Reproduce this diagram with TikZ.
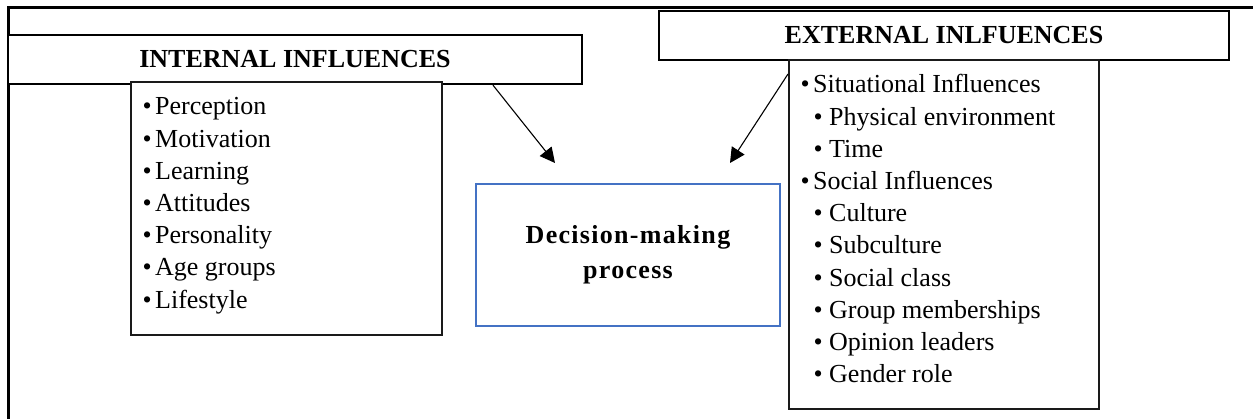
\documentclass[tikz,border=0pt]{standalone}
\usepackage{fontspec}
\setmainfont{Liberation Serif}
\newfontfamily\dmfont[LetterSpace=5]{Liberation Serif}
\usetikzlibrary{arrows.meta}
\definecolor{boxline}{HTML}{1A1A1A}
\definecolor{dmblue}{HTML}{4472C4}
% bullet in a box of given width, followed by the item text
\newcommand\blt[2]{\makebox[#1][l]{•}#2}
\begin{document}
\begin{tikzpicture}[x=1pt,y=-1pt,
  frameline/.style={line width=3pt, draw=black},
  headbox/.style={draw=black, line width=2.4pt, fill=white, inner sep=0pt,
    font=\fontsize{26}{30}\selectfont\bfseries},
  listbox/.style={draw=boxline, line width=2pt, fill=white, inner sep=0pt},
  dmbox/.style={draw=dmblue, line width=2pt, fill=white, inner sep=0pt,
    align=center, font={\dmfont\bfseries\fontsize{26}{35}\selectfont}},
  itemtext/.style={anchor=base west, inner sep=0pt,
    font=\fontsize{26}{32}\selectfont},
  inflarrow/.style={line width=1.1pt, draw=black,
    -{Triangle[length=15pt,width=15pt]}}
]
\useasboundingbox (0,0) rectangle (1253,419);

% outer frame (only its top and left sides fall on the page)
\draw[frameline] (8.5,440) -- (8.5,7.5) -- (1270,7.5);

% internal influences
\node[headbox, minimum width=574pt, minimum height=49pt] (inhead) at (295,59.5)
  {INTERNAL INFLUENCES};
\node[listbox, minimum width=311pt, minimum height=253pt] (inlist) at (286.5,208.5) {};

% external influences
\node[headbox, minimum width=570pt, minimum height=49pt] (exhead) at (944,35.5)
  {EXTERNAL INLFUENCES};
\node[listbox, minimum width=310pt, minimum height=349pt] (exlist) at (944,234.5) {};

% decision-making process
\node[dmbox, minimum width=304pt, minimum height=142pt] (dm) at (628,255)
  {Decision-making\\process};

% arrows towards the decision box
\path (inhead.south) ++(198,0) coordinate (ls);
\path (exlist.north west) ++(0,15) coordinate (rs);
\coordinate (tl) at (555,163);
\coordinate (tr) at (730,163);
\draw[inflarrow] (ls) -- (tl);
\draw[inflarrow] (rs) -- (tr);

% internal items
\foreach \t [count=\i] in {Perception,Motivation,Learning,Attitudes,Personality,Age groups,Lifestyle}
  \node[itemtext] (in\i) at (142.5,{115+32.2*(\i-1)}) {\blt{12.5pt}{\t}};

% external items (level 0 = main, level 1 = sub)
\foreach \t/\k [count=\i] in {Situational Influences/0,Physical environment/1,Time/1,
    Social Influences/0,Culture/1,Subculture/1,Social class/1,
    Group memberships/1,Opinion leaders/1,Gender role/1}
  \node[itemtext] (ex\i) at ({800.5+13*\k},{93+32.2*(\i-1)})
    {\blt{\dimexpr 12.5pt+3pt*\k\relax}{\t}};
\end{tikzpicture}
\end{document}
